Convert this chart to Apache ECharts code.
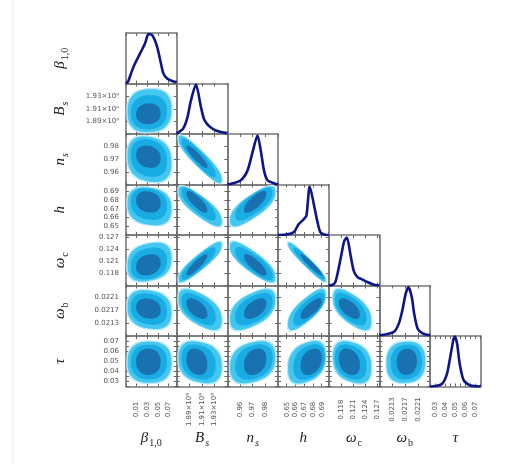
<!DOCTYPE html>
<html><head><meta charset="utf-8">
<script src="https://cdn.jsdelivr.net/npm/echarts@6/dist/echarts.min.js"></script>
<style>html,body{margin:0;padding:0;background:#fff}#c{width:518px;height:464px}</style>
</head><body><div id="c"></div><script>
// ---- parameter axis ranges and tick labels ----
const axMin = [-0.01, 1.87e9, 0.95, 0.64, 0.115, 0.0209, 0.025];
const axMax = [0.085, 1.95e9, 0.99, 0.698, 0.1275, 0.02245, 0.075];
const axInterval = [0.02, 0.02e9, 0.01, 0.01, 0.003, 0.0004, 0.005];
const betaTicks = [0.01, 0.03, 0.05, 0.07];
const bsTicks = [1.89e9, 1.91e9, 1.93e9];
const nsTicks = [0.96, 0.97, 0.98];
const hTicks = [0.65, 0.66, 0.67, 0.68, 0.69];
const wcTicks = [0.118, 0.121, 0.124, 0.127];
const wbTicks = [0.0213, 0.0217, 0.0221];
const tauTicks = [0.03, 0.04, 0.05, 0.06, 0.07];
const betaTickText = ['0.01', '0.03', '0.05', '0.07'];
const bsTickText = ['1.89×10⁹', '1.91×10⁹', '1.93×10⁹'];
const nsTickText = ['0.96', '0.97', '0.98'];
const hTickText = ['0.65', '0.66', '0.67', '0.68', '0.69'];
const wcTickText = ['0.118', '0.121', '0.124', '0.127'];
const wbTickText = ['0.0213', '0.0217', '0.0221'];
const tauTickText = ['0.03', '0.04', '0.05', '0.06', '0.07'];

// ---- 1D marginal posteriors (x, relative density) ----
const betaX = [-0.01, -0.006, 0.0008, 0.007, 0.0166, 0.026, 0.032, 0.039, 0.048, 0.0546, 0.060, 0.067, 0.079, 0.085];
const betaY = [0.0, 0.04, 0.24, 0.40, 0.60, 0.80, 0.98, 0.96, 0.74, 0.44, 0.20, 0.10, 0.04, 0.03];
const bsX = [1.87e9, 1.8727e9, 1.880e9, 1.887e9, 1.8924e9, 1.9004e9, 1.9084e9, 1.913e9, 1.918e9, 1.924e9, 1.932e9, 1.940e9, 1.95e9];
const bsY = [0.0, 0.03, 0.10, 0.33, 0.66, 0.98, 0.53, 0.30, 0.20, 0.13, 0.07, 0.04, 0.02];
const nsX = [0.95, 0.9524, 0.9604, 0.9658, 0.9698, 0.9738, 0.9764, 0.979, 0.9818, 0.9884, 0.99];
const nsY = [0.0, 0.01, 0.08, 0.27, 0.63, 0.97, 0.67, 0.27, 0.08, 0.01, 0.0];
const hX = [0.64, 0.6423, 0.6577, 0.6635, 0.6693, 0.6725, 0.6763, 0.681, 0.6849, 0.6887, 0.6957, 0.698];
const hY = [0.0, 0.0, 0.05, 0.21, 0.31, 0.38, 0.96, 0.61, 0.28, 0.05, 0.0, 0.0];
const wcX = [0.115, 0.1158, 0.1166, 0.11733, 0.11818, 0.11883, 0.1195, 0.12033, 0.12118, 0.12218, 0.123, 0.1245, 0.126, 0.1275];
const wcY = [0.0, 0.01, 0.06, 0.29, 0.63, 0.88, 0.95, 0.63, 0.29, 0.16, 0.13, 0.07, 0.02, 0.0];
const wbX = [0.0209, 0.02095, 0.021343, 0.021498, 0.021604, 0.021706, 0.02179, 0.021892, 0.021963, 0.022069, 0.022224, 0.022428, 0.02245];
const wbY = [0.02, 0.02, 0.08, 0.25, 0.51, 0.84, 0.97, 0.77, 0.45, 0.15, 0.05, 0.02, 0.02];
const tauX = [0.025, 0.0267, 0.0367, 0.0417, 0.045, 0.0483, 0.0495, 0.0517, 0.0543, 0.0583, 0.065, 0.075];
const tauY = [0.0, 0.0, 0.05, 0.25, 0.59, 0.95, 0.99, 0.85, 0.45, 0.12, 0.02, 0.0];

// ---- 2D contour extents ----
const outerCenter = [0.034, 1.907e9, 0.970, 0.673, 0.1208, 0.02171, 0.049];
const outerHalf = [0.041, 0.034e9, 0.0178, 0.0215, 0.0047, 0.00059, 0.0203];
const midHalf = [0.034, 0.027e9, 0.0148, 0.018, 0.0039, 0.00048, 0.0172];
const innerCenter = [0.032, 1.902e9, 0.972, 0.678, 0.1201, 0.02174, 0.0495];
const innerHalf = [0.023, 0.0165e9, 0.0088, 0.0122, 0.0026, 0.00031, 0.013];
// correlations (row parameter vs earlier column parameters)
const corrBs = [0.05];
const corrNs = [-0.15, -0.9];
const corrH = [-0.15, -0.8, 0.75];
const corrWc = [0.2, 0.88, -0.8, -0.95];
const corrWb = [-0.15, -0.55, 0.5, 0.75, -0.6];
const corrTau = [0.0, -0.2, 0.25, 0.3, -0.25, 0.05];

const tickVals = [betaTicks, bsTicks, nsTicks, hTicks, wcTicks, wbTicks, tauTicks];
const tickTexts = [betaTickText, bsTickText, nsTickText, hTickText, wcTickText, wbTickText, tauTickText];
const curveX = [betaX, bsX, nsX, hX, wcX, wbX, tauX];
const curveY = [betaY, bsY, nsY, hY, wcY, wbY, tauY];
const corr = [[], corrBs, corrNs, corrH, corrWc, corrWb, corrTau];

const titles = [
  {m: 'β', s: '1,0', si: false}, {m: 'B', s: 's', si: true}, {m: 'n', s: 's', si: true},
  {m: 'h', s: '', si: false}, {m: 'ω', s: 'c', si: false}, {m: 'ω', s: 'b', si: false}, {m: 'τ', s: '', si: false}
];

const levelColors = ['#b5e9f9', '#42c7f0', '#19ace4', '#1a71b0'];
const levelSquare = [2.6, 2.5, 2.35, 2.2];
const frameColor = '#777777';
const cellW = 50.67, cellH = 50.5;
const colLeft = i => 126 + i * cellW;
const rowTop = j => 33 + j * cellH;

function fmt(p) {
  return function (v) {
    const tv = tickVals[p];
    for (let k = 0; k < tv.length; k++) {
      if (Math.abs(v - tv[k]) < axInterval[p] * 0.05) return tickTexts[p][k];
    }
    return '';
  };
}
const tickStyle = {show: true, inside: true, length: 3, lineStyle: {color: '#666', width: 1}};
const lineStyleAx = {show: true, onZero: false, lineStyle: {color: frameColor, width: 1.6}};

function xAxisDef(p, g, pos, showLabel) {
  return {
    type: 'value', gridIndex: g, position: pos, min: axMin[p], max: axMax[p], interval: axInterval[p],
    axisLine: lineStyleAx, axisTick: tickStyle, splitLine: {show: false},
    axisLabel: {show: showLabel, rotate: 90, align: 'center', verticalAlign: 'middle', margin: 23,
      fontSize: 7, color: '#555', fontFamily: 'DejaVu Sans', formatter: fmt(p)}
  };
}
function yAxisDef(p, g, pos, showLabel) {
  return {
    type: 'value', gridIndex: g, position: pos, min: axMin[p], max: axMax[p], interval: axInterval[p],
    axisLine: lineStyleAx, axisTick: tickStyle, splitLine: {show: false},
    axisLabel: {show: showLabel, margin: 7, fontSize: 7, color: '#555', fontFamily: 'DejaVu Sans', formatter: fmt(p)}
  };
}
function densAxis(g, pos) {
  return {type: 'value', gridIndex: g, position: pos, min: 0, max: 1, axisLine: lineStyleAx,
    axisTick: {show: false}, axisLabel: {show: false}, splitLine: {show: false}};
}

function spow(v, e) { return Math.sign(v) * Math.pow(Math.abs(v), e); }
function renderEllipse(params, api) {
  const cx = api.value(0), cy = api.value(1), wx = api.value(2), wy = api.value(3), r = api.value(4), lvl = api.value(5);
  const e = 2 / levelSquare[lvl];
  const pts = [];
  const q = Math.sqrt(Math.max(0, 1 - r * r));
  for (let k = 0; k < 120; k++) {
    const t = k / 120 * 2 * Math.PI;
    const c = spow(Math.cos(t), e), s = spow(Math.sin(t), e);
    pts.push(api.coord([cx + wx * c, cy + wy * (r * c + q * s)]));
  }
  return {type: 'polygon', shape: {points: pts}, style: {fill: levelColors[lvl]}};
}

const option = {animation: false, backgroundColor: '#ffffff', grid: [], xAxis: [], yAxis: [], series: [], graphic: []};
let g = 0;
for (let j = 0; j < 7; j++) {
  for (let i = 0; i <= j; i++) {
    option.grid.push({left: colLeft(i), top: rowTop(j), width: cellW, height: cellH});
    const xb = option.xAxis.length;
    option.xAxis.push(xAxisDef(i, g, 'bottom', j === 6));
    option.xAxis.push(xAxisDef(i, g, 'top', false));
    const yl = option.yAxis.length;
    if (i === j) {
      option.yAxis.push(densAxis(g, 'left'));
      option.yAxis.push(densAxis(g, 'right'));
      option.series.push({
        type: 'line', xAxisIndex: xb, yAxisIndex: yl, showSymbol: false, smooth: 0.25, clip: true,
        lineStyle: {color: '#0c168a', width: 2.6},
        data: curveX[i].map((x, k) => [x, curveY[i][k]])
      });
    } else {
      option.yAxis.push(yAxisDef(j, g, 'left', i === 0));
      option.yAxis.push(yAxisDef(j, g, 'right', false));
      const r = corr[j][i];
      const midCx = (outerCenter[i] + innerCenter[i]) / 2, midCy = (outerCenter[j] + innerCenter[j]) / 2;
      option.series.push({
        type: 'custom', xAxisIndex: xb, yAxisIndex: yl, clip: true, renderItem: renderEllipse,
        encode: {x: 0, y: 1},
        data: [
          [outerCenter[i], outerCenter[j], outerHalf[i] * 1.06, outerHalf[j] * 1.06, r, 0],
          [outerCenter[i], outerCenter[j], outerHalf[i], outerHalf[j], r, 1],
          [midCx, midCy, midHalf[i], midHalf[j], r, 2],
          [innerCenter[i], innerCenter[j], innerHalf[i], innerHalf[j], r, 3]
        ]
      });
    }
    g++;
  }
}

// ---- axis titles (math style) ----
const mctx = document.createElement('canvas').getContext('2d');
const mainFont = 'italic 15px "Liberation Serif"';
function measure(font, s) { mctx.font = font; return mctx.measureText(s).width; }
function titleGroup(t, x, y, rot) {
  const subFont = (t.si ? 'italic ' : '') + '10px "Liberation Serif"';
  const mw = measure(mainFont, t.m), sw = t.s ? measure(subFont, t.s) + 1 : 0;
  const x0 = -(mw + sw) / 2;
  const children = [{type: 'text', x: x0, y: 0, style: {text: t.m, font: mainFont, fill: '#1a1a1a', align: 'left', verticalAlign: 'middle'}}];
  if (t.s) children.push({type: 'text', x: x0 + mw + 1, y: 5, style: {text: t.s, font: subFont, fill: '#1a1a1a', align: 'left', verticalAlign: 'middle'}});
  return {type: 'group', x: x, y: y, rotation: rot, children: children};
}
for (let p = 0; p < 7; p++) {
  option.graphic.push(titleGroup(titles[p], colLeft(p) + cellW / 2, 438, 0));
  option.graphic.push(titleGroup(titles[p], 60, rowTop(p) + cellH / 2, Math.PI / 2));
}
option.graphic.push({type: 'line', shape: {x1: 13, y1: 0, x2: 13, y2: 464}, style: {stroke: '#ececec', lineWidth: 1}});

const chart = echarts.init(document.getElementById('c'), null, {renderer: 'canvas'});
chart.setOption(option);
</script></body></html>
